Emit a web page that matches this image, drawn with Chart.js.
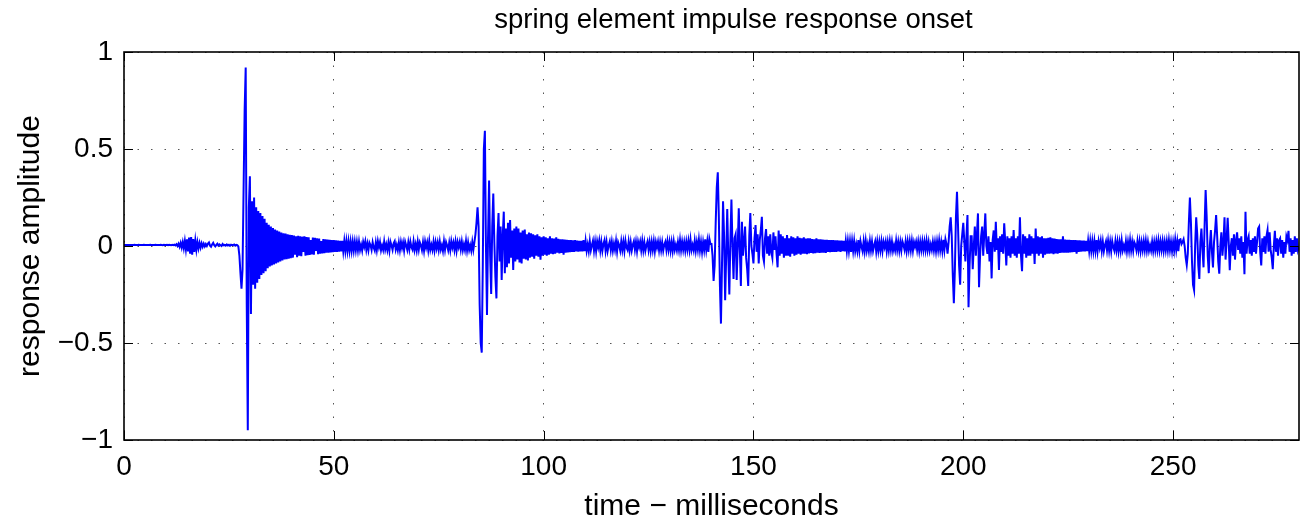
<!DOCTYPE html>
<html>
<head>
<meta charset="utf-8">
<script src="https://cdn.jsdelivr.net/npm/chart.js@4/dist/chart.umd.min.js"></script>
<style>
  html, body { margin: 0; padding: 0; background: #fff; }
  #wrap { width: 1300px; height: 520px; }
</style>
</head>
<body>
<div id="wrap"><canvas id="chart" width="1300" height="520"></canvas></div>
<script>
// sampling grid of the traced waveform (ms)
const sampleStepMs = 0.25;
const segmentStartMs = [0, 28, 84, 140, 196, 252];

// 0 - 27.75 ms : quiet lead-in and small blip
const preOnset = [
  .005,.005,.005,.005,.005,.005,.005,.005,
  .005,.005,.006,.005,.005,.005,.006,.005,
  .005,.005,.005,.006,.005,.005,.005,.005,
  .005,.006,.005,.005,.005,.005,.006,.005,
  .005,.005,.005,.006,.005,.004,.006,.005,
  .005,.006,.004,.006,.005,.004,.006,.004,
  .007,.003,.009,.0,.012,-.004,.016,-.008,
  .02,-.012,.026,-.018,.034,-.028,.044,-.04,
  .046,-.045,.036,-.03,.028,-.02,.02,-.012,
  .016,-.008,.014,-.004,.012,-.002,.01,.0,
  .012,.018,.002,-.004,.008,.016,.004,-.002,
  .006,.012,.002,.008,.004,.0,.01,.004,
  .006,.002,.008,.003,.006,.001,.007,.004,
  .005,.008,.002,.006,.004,-.002,-.05,-.14
];

// 28 - 83.75 ms : first strike and its ringing
const firstStrike = [
  -.22,-.12,.3,.7,.92,-.3,-.95,.2,
  .36,-.35,.23,-.2,.25,-.22,.2,-.19,
  .18,-.17,.17,-.15,.155,-.14,.14,-.13,
  .12,-.115,.11,-.105,.1,-.1,.092,-.095,
  .085,-.09,.08,-.085,.075,-.08,.07,-.075,
  .066,-.07,.064,-.068,.06,-.065,.058,-.063,
  .056,-.06,.054,-.045,.05,-.058,.052,-.05,
  .05,-.052,.048,-.03,.05,-.05,.046,-.048,
  .045,-.046,.03,-.044,.044,-.045,.042,-.025,
  .04,-.042,.038,-.04,.025,-.038,.036,-.037,
  .034,-.035,.033,-.034,.032,-.033,.031,-.032,
  .03,-.031,.029,-.03,.028,-.029,.027,-.028,
  .027,-.027,.026,-.026,.025,-.025,.024,-.025,
  .023,-.024,.023,-.023,.022,-.022,.021,-.022,
  .022,-.02,.006,-.023,.021,-.004,.024,-.02,
  .012,-.022,.017,.004,-.02,.019,-.008,-.024,
  .018,-.021,.024,-.006,.02,-.022,.002,-.02,
  .023,-.018,.008,-.021,.017,-.024,.022,.003,
  -.02,.014,.025,-.018,.005,-.022,.018,-.021,
  .021,-.01,.018,-.023,.022,.002,-.02,.02,
  -.017,.022,-.006,-.019,.024,-.02,.01,-.023,
  .022,-.018,.019,.004,-.021,.02,-.024,.023,
  -.008,.019,-.021,.026,-.019,.006,-.02,.021,
  -.022,.02,-.013,.018,-.02,.022,-.018,.004,
  -.025,.024,-.019,.02,.002,-.022,.017,-.021,
  .025,-.008,.018,-.02,.022,-.024,.02,-.006,
  .021,-.018,.022,-.021,.008,-.02,.026,-.022,
  .018,-.02,.004,-.024,.021,-.019,.02,.06
];

// 84 - 139.75 ms
const secondStrike = [
  .12,.2,.1,-.3,-.5,-.55,-.1,.5,
  .594,.0,-.356,.05,.337,-.05,-.247,.1,
  .27,.02,-.16,-.27,.05,.17,-.08,.1,
  -.175,.05,.177,-.14,.09,-.11,.12,-.09,
  .134,-.06,.08,-.124,.09,-.08,.1,-.07,
  .09,-.085,.07,-.09,.08,-.065,.085,-.07,
  .06,-.075,.07,-.06,.065,-.055,.06,-.065,
  .055,-.05,.06,-.055,.05,-.07,.045,-.05,
  .05,-.045,.045,-.05,.04,-.045,.05,-.04,
  .04,-.042,.038,-.04,.045,-.035,.037,-.038,
  .035,-.036,.034,-.045,.033,-.034,.032,-.033,
  .03,-.032,.031,-.03,.029,-.031,.03,-.028,
  .028,-.029,.027,-.028,.026,-.028,.03,-.027,
  .026,-.025,.008,-.027,.025,-.022,.004,.027,
  -.024,.022,-.026,.024,-.006,.028,-.023,.021,
  -.025,.01,.03,-.024,.02,-.026,.003,.023,
  -.021,.021,-.024,.012,-.02,.025,-.028,.02,
  .004,-.023,.024,-.02,.021,-.025,.027,-.008,
  -.021,.023,-.022,.02,-.023,.006,.025,-.019,
  .021,-.026,.022,-.005,.023,-.021,.026,-.022,
  .019,-.024,.004,.024,-.02,.02,-.025,.021,
  -.02,.024,-.027,.02,-.008,.022,-.022,.02,
  -.021,.019,-.024,.007,.022,-.02,.024,-.019,
  .021,-.024,.02,-.025,.023,-.02,.006,-.022,
  .019,-.02,.03,-.021,.022,-.019,.02,-.024,
  .022,-.019,.025,-.02,.032,-.021,.005,-.022,
  .026,-.024,.02,-.019,.033,-.022,.021,-.03,
  .02,-.021,.034,-.02,.025,-.03,.036,.01
];

// 140 - 195.75 ms
const thirdStrike = [
  .01,-.05,-.18,-.1,.12,.3,.38,.15,
  -.2,-.4,-.1,.23,.05,-.28,-.05,.19,
  -.05,-.25,.03,.24,.0,-.17,.04,.06,
  -.175,.0,.195,-.02,-.206,.125,-.05,.02,
  .1,-.06,-.12,-.206,.05,.17,.0,-.04,
  -.09,.04,.108,-.03,.06,-.09,.03,.08,
  .15,-.05,-.08,.04,.087,-.04,.05,-.05,
  .06,-.03,-.06,.07,-.02,.05,-.04,-.11,
  .08,-.05,.06,-.04,.05,-.06,.04,-.05,
  .057,-.05,.04,-.055,.05,-.04,.045,-.05,
  .04,-.045,.05,-.04,.042,-.045,.04,-.04,
  .045,-.04,.038,-.042,.04,-.038,.04,-.036,
  .036,-.038,.035,-.037,.04,-.035,.034,-.036,
  .034,-.035,.033,-.034,.032,-.036,.032,-.031,
  .03,-.032,.031,-.03,.03,-.031,.029,-.03,
  .029,-.028,.028,-.03,.028,-.027,.027,-.028,
  .026,-.027,.026,-.026,.025,-.03,.026,-.025,
  .026,-.027,.008,-.026,.03,-.024,.025,-.004,
  -.027,.024,-.026,.027,-.023,.01,-.026,.025,
  -.022,.023,-.025,.003,.024,-.028,.022,-.024,
  .021,-.022,.024,-.025,.021,-.006,.023,-.026,
  .02,-.023,.025,-.02,.022,-.025,.004,-.022,
  .027,-.02,.021,-.024,.02,-.022,.024,.005,
  -.02,.023,-.025,.023,-.02,.025,-.021,.026,
  -.023,.02,-.004,.022,-.02,.022,-.025,.021,
  -.02,.024,-.021,.022,-.021,.027,-.02,.02,
  -.024,.008,-.02,.021,-.022,.02,-.026,.023,
  -.02,.029,-.021,.02,-.025,.032,-.02,.035
];

// 196 - 251.75 ms
const fourthStrike = [
  .01,-.04,.02,.1,.148,.05,-.15,-.295,
  -.12,.15,.28,.1,-.1,-.2,.0,.06,
  .12,.02,-.08,.05,.16,-.316,-.1,.05,
  .05,-.12,.0,.1,-.05,.06,.168,-.213,
  -.05,.05,.1,-.05,.06,.168,.0,-.04,
  .05,-.08,.02,-.167,.03,.08,-.03,.125,
  -.02,.04,-.124,.05,-.03,.06,-.04,.117,
  .02,-.1,.05,-.05,.04,-.06,.05,-.04,
  .082,-.05,.04,-.06,.05,-.04,.148,-.05,
  -.13,.06,-.04,.05,-.06,.04,-.05,.06,
  -.05,.05,-.04,.04,-.093,.09,-.04,.05,
  -.05,.045,-.04,.05,-.06,.04,-.045,.04,
  -.04,.042,-.04,.045,-.038,.04,-.042,.038,
  -.038,.036,-.04,.035,-.036,.034,-.035,.05,
  -.034,.033,-.035,.032,-.034,.032,-.033,.031,
  -.032,.03,-.031,.03,-.04,.029,-.03,.029,
  -.029,.028,-.028,.028,-.028,.027,-.027,.027,
  -.026,.026,-.026,.025,-.026,.025,-.025,.03,
  -.026,.025,-.008,.027,-.025,.022,-.027,.004,
  .024,-.022,.026,-.024,.021,-.026,.025,-.006,
  -.024,.025,-.021,.023,-.026,.02,-.024,.028,
  -.022,.003,-.021,.024,-.026,.02,-.023,.03,
  -.022,.021,-.024,.02,.006,-.022,.025,-.021,
  .023,-.025,.02,-.02,.024,-.021,.027,-.023,
  .02,-.024,.004,-.023,.021,-.025,.02,-.022,
  .024,-.02,.028,-.021,.023,-.02,.025,-.024,
  .021,-.022,.024,-.022,.03,-.02,.022,-.026,
  .021,-.023,.032,-.02,.025,-.027,.032,.035
];

// 252 - 280 ms
const fifthStrike = [
  .01,.02,.035,.0,-.06,-.098,-.04,.12,
  .25,.12,-.08,-.2,-.227,.0,.148,.06,
  -.1,-.17,.02,.09,-.02,-.11,.1,.289,
  .15,-.05,-.14,.0,.082,-.03,-.11,.02,
  .08,.16,.05,-.08,-.143,.0,.07,-.05,
  .02,.148,-.07,.03,.145,.02,-.125,.0,
  .04,-.05,.06,-.07,.03,.07,-.02,.04,
  -.04,.05,-.06,.02,-.145,.177,-.04,.03,
  .05,-.04,.03,-.05,.04,-.03,.05,-.04,
  .02,.09,.1,-.03,-.1,.04,-.03,.05,
  -.04,.05,.082,-.03,.07,-.02,-.06,-.12,
  .0,.078,-.03,.04,-.05,.03,.04,-.04,
  .03,-.06,.02,-.04,.05,.03,.078,-.03,
  .04,-.05,.03,-.04,.05,-.03,.04,-.02,
  .0
];

const xTickValues = [0, 50, 100, 150, 200, 250];
const yTickValues = [-1, -0.5, 0, 0.5, 1];
const chartTitle = 'spring element impulse response onset';

const segments = [preOnset, firstStrike, secondStrike, thirdStrike, fourthStrike, fifthStrike];
const points = [];
segments.forEach((seg, s) => {
  seg.forEach((v, i) => {
    points.push({ x: segmentStartMs[s] + i * sampleStepMs, y: v });
  });
});

const FONT = '"Liberation Sans", Arial, Helvetica, sans-serif';
const minus = v => (v < 0 ? '\u2212' + Math.abs(v) : String(v));

// matlab style: box around the axes, ticks pointing inwards, title a bit right of centre
const axesBox = {
  id: 'axesBox',
  afterDatasetsDraw(chart) {
    const { ctx, chartArea: a, scales } = chart;
    const len = 9;
    ctx.save();
    ctx.strokeStyle = '#000';
    ctx.lineWidth = 1;
    ctx.beginPath();
    xTickValues.forEach(v => {
      const px = Math.round(scales.x.getPixelForValue(v)) + 0.5;
      ctx.moveTo(px, a.bottom); ctx.lineTo(px, a.bottom - len);
      ctx.moveTo(px, a.top); ctx.lineTo(px, a.top + len);
    });
    yTickValues.forEach(v => {
      const py = Math.round(scales.y.getPixelForValue(v)) + 0.5;
      ctx.moveTo(a.left, py); ctx.lineTo(a.left + len, py);
      ctx.moveTo(a.right, py); ctx.lineTo(a.right - len, py);
    });
    ctx.stroke();
    ctx.lineWidth = 1.6;
    ctx.strokeRect(a.left, a.top, a.right - a.left, a.bottom - a.top);

    ctx.fillStyle = '#000';
    ctx.font = '27.5px ' + FONT;
    ctx.textAlign = 'center';
    ctx.textBaseline = 'middle';
    ctx.fillText(chartTitle, (a.left + a.right) / 2 + 22, a.top - 32);
    ctx.restore();
  }
};

new Chart(document.getElementById('chart'), {
  type: 'line',
  data: {
    datasets: [{
      data: points,
      borderColor: '#0000ff',
      borderWidth: 2,
      pointRadius: 0,
      tension: 0,
      fill: false
    }]
  },
  options: {
    responsive: false,
    animation: false,
    events: [],
    layout: { padding: { left: 9, right: 1, top: 52, bottom: 0 } },
    plugins: {
      legend: { display: false },
      tooltip: { enabled: false },
      title: { display: false }
    },
    scales: {
      x: {
        type: 'linear',
        min: 0,
        max: 280,
        afterBuildTicks: s => { s.ticks = xTickValues.map(v => ({ value: v })); },
        afterFit: s => { s.height = 80; },
        ticks: {
          color: '#000',
          font: { family: FONT, size: 28 },
          padding: 10,
          maxRotation: 0,
          callback: minus
        },
        grid: { color: '#555', lineWidth: 1, drawTicks: false },
        border: { display: false, dash: [1.5, 12] },
        title: {
          display: true,
          text: 'time \u2212 milliseconds',
          color: '#000',
          font: { family: FONT, size: 30, lineHeight: 0.6 }
        }
      },
      y: {
        min: -1,
        max: 1,
        afterBuildTicks: s => { s.ticks = yTickValues.map(v => ({ value: v })); },
        afterFit: s => { s.width = 115; },
        ticks: {
          color: '#000',
          font: { family: FONT, size: 28 },
          padding: 11,
          callback: minus
        },
        grid: { color: '#555', lineWidth: 1, drawTicks: false },
        border: { display: false, dash: [1.5, 12] },
        title: {
          display: true,
          text: 'response amplitude',
          color: '#000',
          font: { family: FONT, size: 30 }
        }
      }
    }
  },
  plugins: [axesBox]
});
</script>
</body>
</html>
